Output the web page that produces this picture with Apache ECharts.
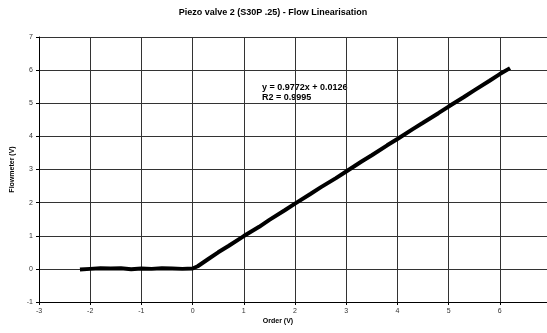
<!DOCTYPE html>
<html><head><meta charset="utf-8">
<script src="https://cdn.jsdelivr.net/npm/echarts@6/dist/echarts.min.js"></script>
<style>html,body{margin:0;padding:0;background:#fff;overflow:hidden}#c{width:560px;height:333px}</style>
</head><body><div id="c"></div>
<script>
const titleText = 'Piezo valve 2 (S30P .25) - Flow Linearisation';
const xName = 'Order (V)';
const yName = 'Flowmeter (V)';
const eqLine1 = 'y = 0.9772x + 0.0126';
const eqLine2 = 'R2 = 0.9995';
const orderV = [-2.2,-2.0,-1.8,-1.6,-1.4,-1.2,-1.0,-0.8,-0.6,-0.4,-0.2,0.0,0.1,0.3,0.5,0.7,1.0,1.3,1.5,1.8,2.0,2.3,2.5,2.8,3.0,3.3,3.5,3.8,4.0,4.3,4.5,4.8,5.0,5.3,5.5,5.8,6.0,6.2];
const flowV = [-0.02,0.0,0.02,0.01,0.02,-0.01,0.01,0.0,0.02,0.01,0.0,0.01,0.08,0.29,0.5,0.69,0.99,1.27,1.48,1.77,1.97,2.26,2.46,2.74,2.94,3.24,3.43,3.73,3.92,4.22,4.41,4.70,4.90,5.19,5.39,5.68,5.88,6.06];
const xMin = -3, xMax = 7, yMin = -1, yMax = 7;

const chart = echarts.init(document.getElementById('c'));
const font = 'Liberation Sans, Arial, sans-serif';
chart.setOption({
  animation: false,
  textStyle: {fontFamily: font},
  grid: {left: 39, right: 9, top: 37, bottom: 31},
  xAxis: {
    type: 'value', min: xMin, max: xMax, interval: 1,
    axisLine: {onZero: false, lineStyle: {color: '#000', width: 1}},
    axisTick: {show: true, length: 3, lineStyle: {color: '#000'}},
    axisLabel: {fontSize: 7, color: '#333', margin: 6},
    splitLine: {show: true, lineStyle: {color: '#333', width: 1}}
  },
  yAxis: {
    type: 'value', min: yMin, max: yMax, interval: 1,
    name: yName, nameLocation: 'middle', nameGap: 22,
    nameTextStyle: {fontSize: 7, fontWeight: 'bold', color: '#000'},
    axisLine: {show: true, onZero: false, lineStyle: {color: '#000', width: 1}},
    axisTick: {show: true, length: 3, lineStyle: {color: '#000'}},
    axisLabel: {fontSize: 7, color: '#333', margin: 6},
    splitLine: {show: true, lineStyle: {color: '#333', width: 1}}
  },
  graphic: [
    {type: 'text', x: 273, y: 8, style: {text: titleText, font: 'bold 9px ' + font, fill: '#000', align: 'center'}},
    {type: 'text', x: 262, y: 83, style: {text: eqLine1 + '\n' + eqLine2, font: 'bold 9px ' + font, fill: '#000', lineHeight: 10}},
    {type: 'text', x: 278, y: 318, style: {text: xName, font: 'bold 7px ' + font, fill: '#000', align: 'center'}}
  ],
  series: [{
    type: 'line',
    data: orderV.map((x, i) => [x, flowV[i]]),
    showSymbol: false,
    lineStyle: {color: '#000', width: 4},
    z: 5
  }]
});
</script></body></html>
